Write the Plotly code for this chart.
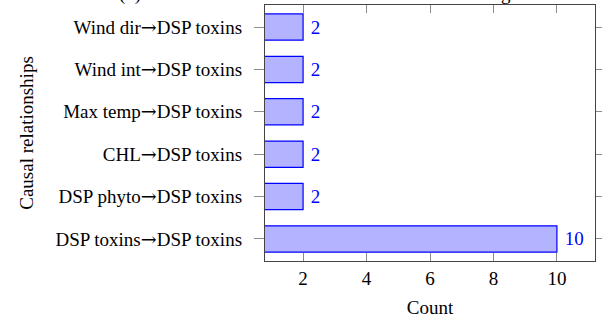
import plotly.graph_objects as go

categories = ["DSP toxins→DSP toxins", "DSP phyto→DSP toxins", "CHL→DSP toxins",
              "Max temp→DSP toxins", "Wind int→DSP toxins", "Wind dir→DSP toxins"]
counts = [10, 2, 2, 2, 2, 2]
x_ticks = [2, 4, 6, 8, 10]
title_text = "(b) Causal links for DSP toxins found with time lag"

FONT = "Liberation Serif, Times New Roman, serif"
ARROW = "<span style='font-family:DejaVu Serif'>→</span>"
tick_text = [c.replace("→", ARROW) for c in categories]

fig = go.Figure()
fig.add_trace(go.Bar(
    x=counts, y=list(range(len(categories))), orientation="h",
    width=0.62,
    marker=dict(color="#b3b3ff", line=dict(color="#0000ff", width=1.2)),
    text=["\u00a0" + str(c) for c in counts], textposition="outside",
    textfont=dict(color="#0000ff", size=19, family=FONT),
    cliponaxis=False, hoverinfo="skip",
))

fig.update_layout(
    width=602, height=320,
    margin=dict(l=265, r=7, t=5, b=59),
    paper_bgcolor="white", plot_bgcolor="white",
    font=dict(family=FONT, size=19, color="black"),
    showlegend=False,
    xaxis=dict(range=[0.8, 11.2], tickvals=x_ticks, ticks="inside", ticklen=8,
               tickcolor="#8c8c8c", tickwidth=1, mirror="allticks", showline=True,
               linecolor="#444444", linewidth=1.3, showgrid=False, zeroline=False,
               title=dict(text="Count", standoff=12, font=dict(size=19)),
               tickfont=dict(size=19), ticklabelstandoff=0, automargin=False),
    yaxis=dict(range=[-0.52, 5.52], tickvals=list(range(len(categories))),
               ticktext=tick_text, ticks="outside", ticklen=10, tickcolor="#8c8c8c",
               tickwidth=1, mirror="allticks", showline=True, linecolor="#444444",
               linewidth=1.3, showgrid=False, zeroline=False,
               title=dict(text="Causal relationships", standoff=16, font=dict(size=19)),
               tickfont=dict(size=19), ticklabelstandoff=8, automargin=False),
    annotations=[dict(text=title_text, xref="paper", yref="paper", x=0.15, y=1,
                      xanchor="center", yanchor="bottom", yshift=-2, showarrow=False,
                      font=dict(size=19, family=FONT))],
)

fig.write_html("out.html", config={"displayModeBar": False},
               post_script="document.body.style.margin='0';")
